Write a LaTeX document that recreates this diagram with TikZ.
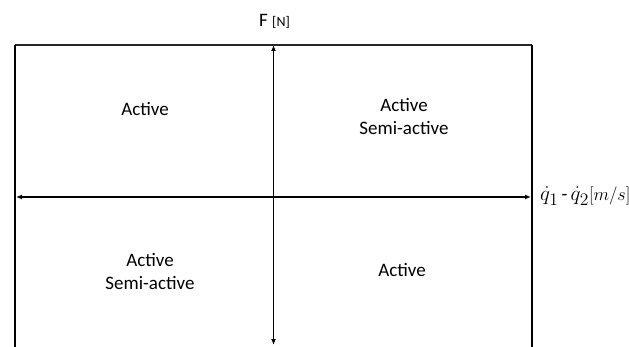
\documentclass[tikz,border=0pt]{standalone}
\usepackage{graphicx}
\usepackage{fontspec}
\setmainfont{Carlito}
\usetikzlibrary{arrows.meta}
\begin{document}
\begin{tikzpicture}[x=1pt,y=-1pt,
  lbl/.style={font=\fontsize{19}{23}\selectfont, align=center, inner sep=0pt},
  frameline/.style={line width=1.8pt},
  topline/.style={line width=1.4pt, black!85},
  axis/.style={line width=1.6pt, {Latex[length=6pt,width=5pt]}-{Latex[length=6pt,width=5pt]}}]
\useasboundingbox (0,0) rectangle (629,347);
\coordinate (tl) at (15,45);
\coordinate (tr) at (532,45);
\coordinate (bl) at (15,347);
\coordinate (br) at (532,347);
\draw[topline] (tl) -- (tr);
\draw[frameline] (tl) -- (bl);
\draw[frameline] (tr) -- (br);
\coordinate (vt) at (273.5,45);
\coordinate (vb) at (273.5,345);
\coordinate (hl) at (16,197);
\coordinate (hr) at (531,197);
\draw[axis] (vb) -- (vt);
\draw[axis] (hl) -- (hr);
\node[lbl, anchor=base] (q1) at (145,116) {Active};
\node[lbl, anchor=center] (q2) at (404,117) {Active\\Semi-active};
\node[lbl, anchor=center] (q3) at (150,272) {Active\\Semi-active};
\node[lbl, anchor=base] (q4) at (402,277) {Active};
\node[lbl, anchor=base west] (fy) at (259,27) {F {\fontsize{14}{14}\selectfont[N]}};
\node[lbl, anchor=base west] (fx) at (540,201) {\scalebox{1.22}{$\dot{q}_1$}\,-\,\scalebox{1.22}{$\dot{q}_2$}\scalebox{1.05}{$[m/s]$}};
\end{tikzpicture}
\end{document}
